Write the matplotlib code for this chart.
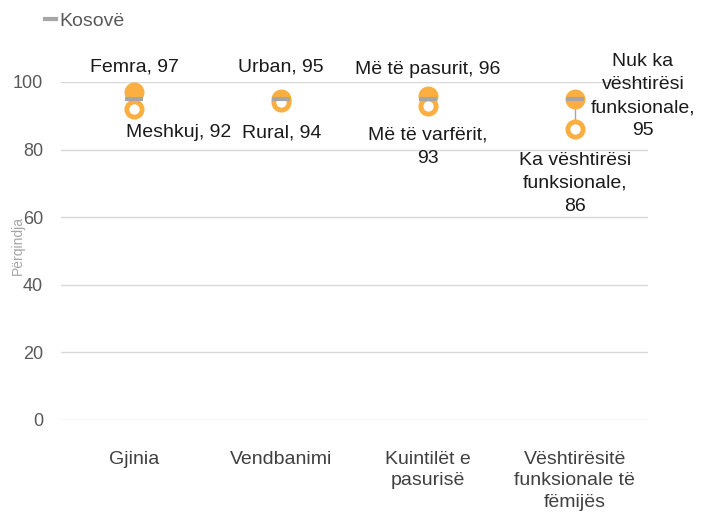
import matplotlib
matplotlib.use("Agg")
import matplotlib.pyplot as plt

categories = ["Gjinia", "Vendbanimi", "Kuintilët e\npasurisë", "Vështirësitë\nfunksionale të\nfëmijës"]
kosove = [95, 95, 95, 95]
high_vals = [97, 95, 96, 95]
low_vals = [92, 94, 93, 86]
high_names = ["Femra", "Urban", "Më të pasurit", "Nuk ka\nvështirësi\nfunksionale"]
low_names = ["Meshkuj", "Rural", "Më të varfërit", "Ka vështirësi\nfunksionale"]
yticks = [0, 20, 40, 60, 80, 100]

plt.rcParams['font.family'] = ['Liberation Sans', 'DejaVu Sans']

fig = plt.figure(figsize=(7.03, 5.14), dpi=100)
ax = fig.add_axes([0.0868, 0.1829, 0.8354, 0.6576])
x = list(range(len(categories)))
orange = "#FBAF40"
grey = "#A6A6A6"

for xi, h, l in zip(x, high_vals, low_vals):
    ax.plot([xi, xi], [l, h], color=grey, lw=1, zorder=2, clip_on=False)
ax.scatter(x, high_vals, s=207, color=orange, zorder=3, clip_on=False, linewidths=0)
ax.scatter(x, low_vals, s=120, facecolor="white", edgecolor=orange, linewidths=3.5, zorder=4, clip_on=False)
ax.scatter(x, kosove, s=150, marker="_", color=grey, linewidths=3, zorder=5, clip_on=False)

fs = 14
ls = 1.45
# label offsets in points (dx, dy) relative to each point
high_off = [(0, 18), (0, 23), (0, 18.4), (49, 2)]
low_off = [(32, -17), (0, -22), (0, -29.5), (0, -39)]

for i, (n, v) in enumerate(zip(high_names, high_vals)):
    sep = ",\n" if (i == 3) else ", "
    ax.annotate(f"{n}{sep}{v}", (i, v), xytext=high_off[i], textcoords="offset points",
                ha="center", va="center", fontsize=fs, color="#1a1a1a", linespacing=ls)
for i, (n, v) in enumerate(zip(low_names, low_vals)):
    sep = ",\n" if i >= 2 else ", "
    ax.annotate(f"{n}{sep}{v}", (i, v), xytext=low_off[i], textcoords="offset points",
                ha="center", va="center", fontsize=fs, color="#1a1a1a", linespacing=ls)

ax.set_xlim(-0.5, 3.5)
ax.set_ylim(0, 100)
ax.set_yticks(yticks)
ax.set_xticks(x)
ax.set_xticklabels(categories, fontsize=14, color="#404040", linespacing=1.35)
ax.tick_params(axis="y", labelsize=13, colors="#595959", length=0, pad=13)
ax.tick_params(axis="x", length=0, pad=22)
ax.grid(axis="y", color="#D9D9D9", lw=1)
ax.set_axisbelow(True)
for s in ax.spines.values():
    s.set_visible(False)

fig.text(18 / 703, 1 - 245 / 514, "Përqindja", rotation=90, fontsize=10, color="#A6A6A6",
         ha="center", va="center")

fig.legend(handles=[plt.Line2D([], [], color=grey, lw=3)], labels=["Kosovë"], loc="center left",
           bbox_to_anchor=(0.05, 1 - 21 / 514), frameon=False, fontsize=14, handlelength=0.55,
           handletextpad=0.2, labelcolor="#595959", borderpad=0)

fig.savefig("out.png", dpi=100)
